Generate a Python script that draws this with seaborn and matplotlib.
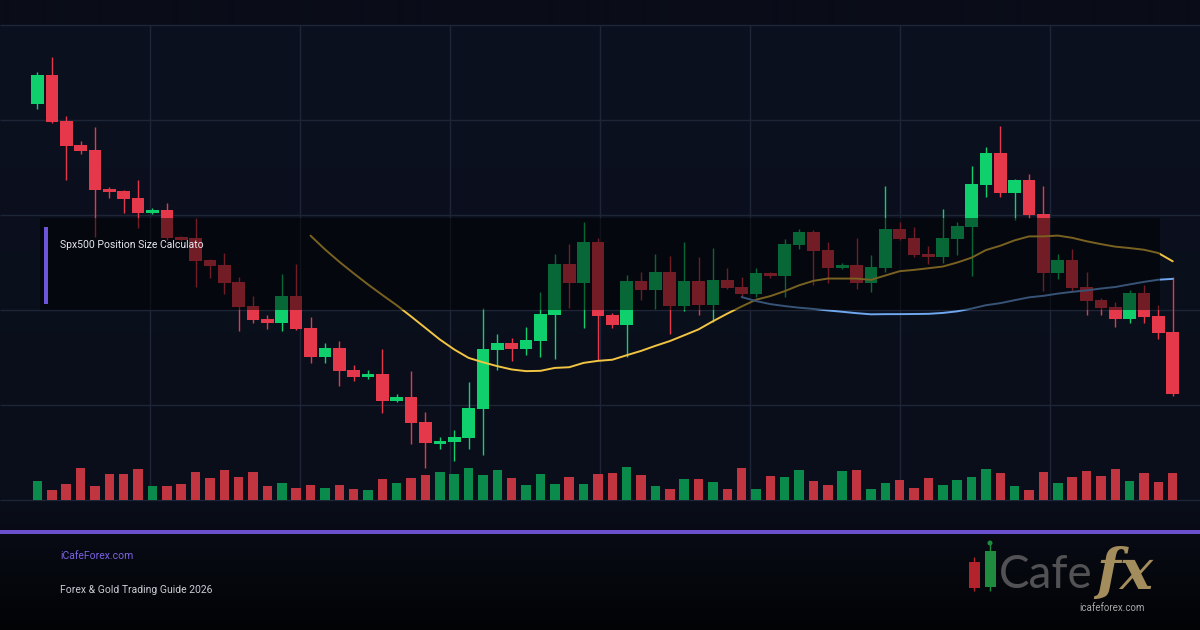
import numpy as np
import pandas as pd
import matplotlib
matplotlib.use("Agg")
import matplotlib.pyplot as plt
from matplotlib.patches import Rectangle, Circle
import seaborn as sns

# OHLC (index points), 80 sessions
opens = [5396.3, 5425, 5379, 5355, 5350, 5311.3, 5309, 5302, 5287.3, 5290,
         5263, 5262.3, 5240, 5235, 5217.7, 5194, 5181, 5177.3, 5204, 5172,
         5143.3, 5152, 5130, 5123.3, 5126.3, 5099.3, 5103, 5078, 5056.3, 5058.3,
         5062.3, 5091.3, 5150.3, 5157, 5151.3, 5159.3, 5185.3, 5236, 5217, 5258,
         5185, 5174.7, 5219, 5210, 5228, 5194, 5219, 5195, 5220, 5213,
         5206, 5227, 5224, 5255, 5268, 5250, 5232, 5235, 5217, 5232,
         5271, 5262, 5246, 5243, 5261.3, 5273.3, 5315, 5347, 5307, 5320,
         5286, 5227, 5240, 5213, 5200, 5193, 5181, 5207, 5184, 5168]
highs = [5428, 5443.3, 5384, 5359.3, 5372.7, 5312.7, 5310, 5320, 5292, 5297,
         5264, 5281.7, 5241, 5247.3, 5223.3, 5204, 5184.7, 5226, 5236, 5183.3,
         5156.7, 5158.7, 5134.7, 5129.7, 5150.7, 5106, 5129, 5088, 5062.7, 5070,
         5118, 5192.3, 5166, 5162.3, 5173.3, 5208, 5246, 5256, 5278, 5261.7,
         5186.7, 5225, 5228, 5246, 5244, 5258, 5242.7, 5252, 5232, 5223,
         5232, 5228, 5261, 5271, 5270, 5258, 5237, 5262, 5245, 5314,
         5278, 5273, 5254, 5291, 5278, 5334, 5353, 5374, 5321, 5326,
         5314, 5246, 5251, 5228, 5202, 5198, 5210, 5215, 5195, 5223]
lows = [5391, 5377.3, 5320, 5345.7, 5262.7, 5301.7, 5287.3, 5272.3, 5286.3, 5260,
        5259, 5213.3, 5221.7, 5206, 5169.3, 5177.3, 5171.3, 5169.3, 5170, 5137.3,
        5136.7, 5114.3, 5119.3, 5121.3, 5086.7, 5098.3, 5056.3, 5032.3, 5051.3, 5039.3,
        5051.3, 5045.3, 5130.3, 5139.3, 5145.3, 5143.3, 5141.3, 5192.3, 5172, 5140,
        5172, 5142.7, 5200, 5191, 5166, 5189, 5185, 5178, 5211, 5203.3,
        5203, 5222, 5203.3, 5251, 5215, 5217, 5231, 5211, 5208, 5228,
        5260, 5243, 5236, 5237, 5245.3, 5224.3, 5303, 5303, 5280, 5282,
        5209, 5221, 5208, 5185, 5185, 5173, 5177, 5177, 5161, 5104]
closes = [5425, 5378.3, 5354.3, 5349.3, 5310.3, 5308.3, 5301.3, 5287.3, 5290, 5262.3,
          5260, 5239.3, 5234.3, 5217.3, 5193.3, 5180, 5177.3, 5204, 5171.3, 5143.3,
          5152, 5129.3, 5123.3, 5126.3, 5099.3, 5103, 5077.3, 5057.3, 5059.3, 5063,
          5092, 5151, 5157, 5151.3, 5160, 5186, 5236, 5217.3, 5258, 5184,
          5174.7, 5219, 5210, 5228, 5194, 5219, 5195, 5220, 5212, 5206,
          5227, 5224, 5256, 5268, 5249.3, 5232, 5235, 5217, 5233, 5271,
          5261, 5245, 5243, 5262, 5274, 5316, 5347, 5307, 5320, 5285,
          5227, 5240, 5212, 5199, 5192, 5181, 5207, 5183, 5167, 5106]
volumes = [750, 390, 630, 1270, 550, 1030, 1030, 1230, 550, 550,
           630, 1110, 870, 1190, 910, 1110, 550, 670, 470, 590,
           470, 590, 430, 390, 830, 670, 870, 990, 1110, 1030,
           1270, 990, 1190, 870, 590, 1030, 630, 910, 630, 1030,
           1070, 1310, 990, 550, 430, 830, 830, 710, 430, 1270,
           430, 950, 910, 1190, 750, 590, 1150, 1190, 430, 670,
           790, 470, 870, 590, 790, 910, 1230, 1070, 550, 390,
           1110, 670, 910, 1150, 950, 1230, 750, 1070, 710, 1070]

panel_title = "Spx500 Position Size Calculato"
footer_site = "iCafeForex.com"
footer_title = "Forex & Gold Trading Guide 2026"

df = pd.DataFrame({"o": opens, "h": highs, "l": lows, "c": closes, "v": volumes})
df["i"] = np.arange(len(df))
df["dir"] = np.where(df.c >= df.o, "up", "down")
df["ma20"] = df.c.rolling(20).mean()
df["ma50"] = df.c.rolling(50).mean()

GREEN, RED = "#10cf6d", "#e5394b"
VGREEN, VRED = "#0a8b4c", "#c0353f"
GRID = "#1e2537"

sns.set_theme(style="dark")
plt.rcParams["font.family"] = ["Roboto", "DejaVu Sans"]

W, H = 1200, 630
fig = plt.figure(figsize=(12, 6.3), dpi=100)

# background gradient, pixel coordinates
bg = fig.add_axes([0, 0, 1, 1], zorder=-10)
top = np.array([0x0c, 0x11, 0x20]) / 255
mid = np.array([0x0a, 0x0e, 0x1a]) / 255
bot = np.array([0x02, 0x03, 0x05]) / 255
grad = np.zeros((H, 1, 3))
for r in range(H):
    if r < 500:
        t = r / 500
        grad[r, 0] = top * (1 - t) + mid * t
    else:
        t = (r - 500) / (H - 500)
        grad[r, 0] = mid * (1 - t) + bot * t
grad[:25, 0] = np.array([0x0a, 0x0d, 0x18]) / 255
bg.imshow(grad, extent=(0, W, H, 0), aspect="auto", interpolation="bilinear")
bg.set_xlim(0, W)
bg.set_ylim(H, 0)
bg.axis("off")
bg.add_patch(Rectangle((0, 530), W, 3.5, color="#6a4fcf", lw=0))

# logo
bg.vlines(974, 557, 591, color="#b3232b", lw=1)
bg.add_patch(Rectangle((968.5, 561.7), 11.5, 26, color="#b3232b", lw=0))
bg.vlines(990, 543, 591, color="#1f8b3e", lw=1)
bg.add_patch(Rectangle((984.6, 550.7), 11.4, 36.6, color="#1f8b3e", lw=0))
bg.add_patch(Circle((990, 543), 1.8, color="#1f8b3e"))
bg.text(999, 588, "Cafe", fontsize=33, color="#525255", ha="left", va="baseline",
        family="Lato", fontweight="normal")
bg.text(1096, 589, "fx", fontsize=40, color="#a48d5c", ha="left", va="baseline",
        family="DejaVu Serif", style="italic", fontweight="bold")
bg.text(1112, 608, "icafeforex.com", fontsize=7, color="#a8a8a8", ha="center", va="center")

# price pane
x0, step = 37.5, 14.37
ax = fig.add_axes([0, 100 / H, 1, 530 / H])
ax.set_facecolor("none")
xl = (-x0 / step, (W - x0) / step)
ax.hlines([5000 + 95 * k for k in range(6)], xl[0], xl[1], color=GRID, lw=1, zorder=0)
ax.vlines([(150 * k - x0) / step for k in range(1, 8)], 5000, 5475, color=GRID, lw=1, zorder=0)

cols = np.where(df["dir"] == "up", GREEN, RED)
ax.vlines(df.i, df.l, df.h, colors=cols, lw=1, zorder=2)
ax.bar(df.i, (df.c - df.o).abs(), bottom=np.minimum(df.o, df.c), width=0.88,
       color=cols, lw=0, zorder=3)
sns.lineplot(data=df, x="i", y="ma20", color="#f2c443", lw=1.4, ax=ax, zorder=4)
sns.lineplot(data=df, x="i", y="ma50", color="#6fa8ee", lw=1.4, ax=ax, zorder=4)

# dark info panel over the candles
ax.add_patch(Rectangle((40 / W, 1 - 310 / H), 1120 / W, 92 / H, transform=fig.transFigure,
                       facecolor="black", alpha=0.5, lw=0, zorder=6))
ax.add_patch(Rectangle((44 / W, 1 - 304 / H), 4 / W, 77 / H, transform=fig.transFigure,
                       facecolor="#6d55d8", lw=0, zorder=7))

# volume
axv = ax.twinx()
sns.barplot(data=df, x="i", y="v", hue="dir", palette={"up": VGREEN, "down": VRED},
            native_scale=True, width=0.66, dodge=False, errorbar=None, legend=False,
            saturation=1, linewidth=0, ax=axv)
axv.set_ylim(-1200, 20000)
for a in (ax, axv):
    a.set_xlim(*xl)
    a.axis("off")
ax.set_ylim(4970, 5500)

fig.text(60 / W, 1 - 245 / H, panel_title, color="#e6e8ee", fontsize=7.5,
         ha="left", va="center", zorder=10)
fig.text(60 / W, 1 - 556 / H, footer_site, color="#7c62e6", fontsize=7.5,
         ha="left", va="center")
fig.text(60 / W, 1 - 590 / H, footer_title, color="#c9ccd3", fontsize=7.5,
         ha="left", va="center")

fig.savefig("out.png", dpi=100, facecolor=fig.get_facecolor())
